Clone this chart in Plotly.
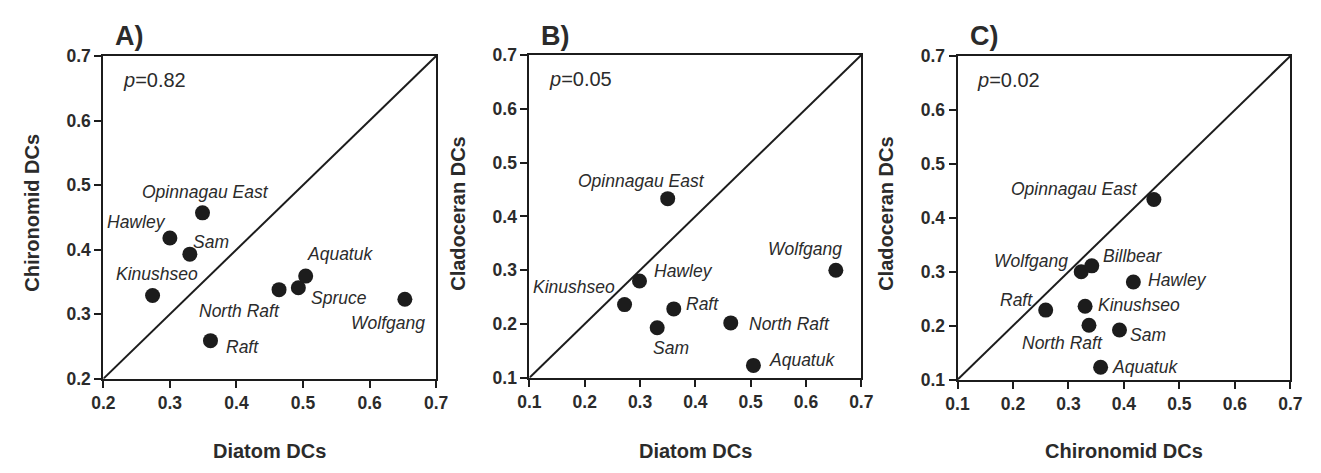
import plotly.graph_objects as go

# ---------------- data ----------------
# Panel A: Diatom DCs (x) vs Chironomid DCs (y)
a_sites = ["Opinnagau East", "Hawley", "Sam", "Kinushseo", "Raft", "North Raft", "Spruce", "Aquatuk", "Wolfgang"]
a_x = [0.349, 0.300, 0.330, 0.274, 0.361, 0.464, 0.493, 0.504, 0.653]
a_y = [0.457, 0.418, 0.393, 0.329, 0.259, 0.338, 0.341, 0.359, 0.323]
a_p = "p=0.82"

# Panel B: Diatom DCs (x) vs Cladoceran DCs (y)
b_sites = ["Opinnagau East", "Hawley", "Kinushseo", "Raft", "Sam", "North Raft", "Aquatuk", "Wolfgang"]
b_x = [0.350, 0.299, 0.272, 0.361, 0.331, 0.464, 0.505, 0.654]
b_y = [0.433, 0.280, 0.236, 0.228, 0.193, 0.202, 0.123, 0.300]
b_p = "p=0.05"

# Panel C: Chironomid DCs (x) vs Cladoceran DCs (y)
c_sites = ["Opinnagau East", "Wolfgang", "Billbear", "Hawley", "Raft", "Kinushseo", "North Raft", "Sam", "Aquatuk"]
c_x = [0.454, 0.323, 0.342, 0.417, 0.259, 0.330, 0.337, 0.392, 0.358]
c_y = [0.434, 0.300, 0.311, 0.281, 0.229, 0.236, 0.201, 0.192, 0.123]
c_p = "p=0.02"

a_ticks = [0.2, 0.3, 0.4, 0.5, 0.6, 0.7]
bc_ticks = [0.1, 0.2, 0.3, 0.4, 0.5, 0.6, 0.7]

# label offsets (px) relative to each point: (dx, dy) screen-style (dy down)
a_off = [(3, -21), (-33, -16), (21, -12), (4, -21), (32, 6), (-40, 21), (41, 10), (34, -22), (-17, 24)]
b_off = [(-26, -18), (44, -10), (-51, -18), (29, -5), (14, 20), (59, 1), (49, -5), (-31, -21)]
c_off = [(-79, -10), (-50, -11), (41, -10), (44, -2), (-29, -10), (54, -1), (-26, 18), (29, 5), (44, 0)]

W, H = 1321, 473
FONT = "Liberation Sans, Arial, sans-serif"
INK = "#1c1c1c"
TXT = "#2b2b2b"

panels = [
    dict(sites=a_sites, x=a_x, y=a_y, p=a_p, ticks=a_ticks, off=a_off, tag="A)",
         xt="Diatom DCs", yt="Chironomid DCs", px=(93, 432), py=(48, 385)),
    dict(sites=b_sites, x=b_x, y=b_y, p=b_p, ticks=bc_ticks, off=b_off, tag="B)",
         xt="Diatom DCs", yt="Cladoceran DCs", px=(527, 865), py=(47, 384)),
    dict(sites=c_sites, x=c_x, y=c_y, p=c_p, ticks=bc_ticks, off=c_off, tag="C)",
         xt="Chironomid DCs", yt="Cladoceran DCs", px=(963, 1302), py=(48, 386)),
]

fig = go.Figure()
annotations = []

for i, pnl in enumerate(panels):
    n = "" if i == 0 else str(i + 1)
    xa, ya = "x" + n, "y" + n
    lo, hi = pnl["ticks"][0], pnl["ticks"][-1]

    # 1:1 line
    fig.add_trace(go.Scatter(x=[lo, hi], y=[lo, hi], mode="lines",
                             line=dict(color=INK, width=2), xaxis=xa, yaxis=ya,
                             showlegend=False, hoverinfo="skip", cliponaxis=False))
    # points
    fig.add_trace(go.Scatter(x=pnl["x"], y=pnl["y"], mode="markers",
                             marker=dict(size=15, color=INK), xaxis=xa, yaxis=ya,
                             text=pnl["sites"], showlegend=False, cliponaxis=False))

    x0, x1 = pnl["px"]
    y0, y1 = pnl["py"]
    axis_common = dict(showline=True, linecolor=INK, linewidth=2, mirror=True,
                       ticks="outside", ticklen=7, tickwidth=2, tickcolor=INK,
                       showgrid=False, zeroline=False, tickformat=".1f",
                       tickfont=dict(family=FONT, size=17.5, color=TXT, weight="bold"),
                       range=[lo, hi], tickvals=pnl["ticks"], fixedrange=True)
    fig.update_layout(**{
        ("xaxis" + n): dict(domain=[x0 / W, x1 / W], anchor=ya, **axis_common),
        ("yaxis" + n): dict(domain=[1 - y1 / H, 1 - y0 / H], anchor=xa, **axis_common),
    })

    # site labels
    for s, xv, yv, (dx, dy) in zip(pnl["sites"], pnl["x"], pnl["y"], pnl["off"]):
        annotations.append(dict(x=xv, y=yv, xref=xa, yref=ya, text=s, showarrow=False,
                                xshift=dx, yshift=-dy,
                                font=dict(family=FONT, size=17.5, color=TXT, style="italic")))
    # p value
    annotations.append(dict(x=(x0 + 52) / W, y=1 - (y0 + 25) / H, xref="paper", yref="paper",
                            text="<i>p</i>=" + pnl["p"].split("=")[1], showarrow=False,
                            xanchor="center", yanchor="middle",
                            font=dict(family=FONT, size=20, color=TXT)))
    # panel tag
    annotations.append(dict(x=(x0 + 27) / W, y=1 - 27 / H, xref="paper", yref="paper",
                            text="<b>" + pnl["tag"] + "</b>", showarrow=False,
                            xanchor="center", yanchor="middle",
                            font=dict(family=FONT, size=27, color=TXT)))
    # axis titles
    annotations.append(dict(x=((x0 + x1) / 2) / W, y=1 - 460 / H, xref="paper", yref="paper",
                            text="<b>" + pnl["xt"] + "</b>", showarrow=False,
                            xanchor="center", yanchor="middle",
                            font=dict(family=FONT, size=20, color=TXT)))
    annotations.append(dict(x=(x0 - 73) / W, y=1 - 212 / H, xref="paper", yref="paper",
                            text="<b>" + pnl["yt"] + "</b>", showarrow=False, textangle=-90,
                            xanchor="center", yanchor="middle",
                            font=dict(family=FONT, size=20, color=TXT)))

fig.update_layout(width=W, height=H, autosize=False,
                  margin=dict(l=0, r=0, t=0, b=0),
                  paper_bgcolor="white", plot_bgcolor="white",
                  annotations=annotations, showlegend=False)

fig.write_html("out.html")
